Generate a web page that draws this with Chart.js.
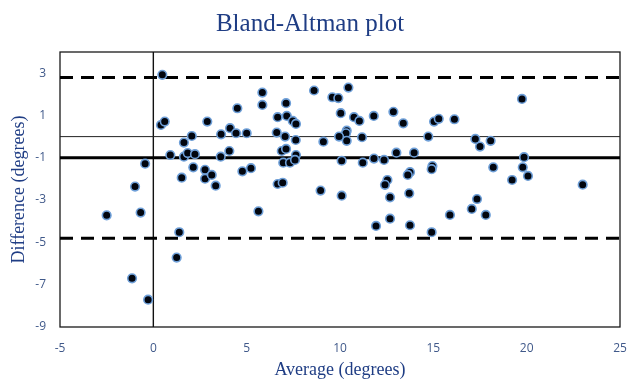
<!DOCTYPE html>
<html lang="en">
<head>
<meta charset="UTF-8">
<title>Bland-Altman plot</title>
<script src="https://cdn.jsdelivr.net/npm/chart.js@4.4.0/dist/chart.umd.min.js"></script>
<style>
  html, body { margin: 0; padding: 0; background: #fff; }
  #wrap { width: 627px; height: 381px; }
</style>
</head>
<body>
<div id="wrap"><canvas id="baPlot"></canvas></div>
<script>
// average of the two methods (x) and their difference (y)
var avgVals = [
  0.48, 0.41, 0.61, -0.44, -0.98, -2.50, -0.68, -1.14, -0.28, 1.39,
  1.25, 5.63, 0.91, 1.64, 1.64, 1.84, 2.06, 2.23, 2.14, 1.52,
  2.77, 2.77, 3.13, 3.34, 2.89, 3.61, 3.63, 4.07, 4.11, 4.43,
  4.50, 5.00, 4.77, 5.23, 5.84, 5.84, 6.66, 6.61, 7.11, 7.15,
  7.47, 7.64, 7.06, 7.63, 6.88, 7.11, 7.64, 6.96, 7.32, 7.59,
  6.66, 6.93, 8.61, 8.96, 9.11, 9.59, 9.91, 10.45, 10.04, 10.75,
  11.04, 11.81, 12.86, 13.39, 10.36, 10.32, 10.36, 9.95, 11.18, 14.73,
  15.04, 15.29, 16.13, 17.25, 17.50, 18.07, 19.75, 19.86, 19.79, 20.07,
  19.22, 18.21, 23.00, 10.09, 11.22, 11.82, 12.36, 13.02, 13.97, 14.95,
  14.91, 13.75, 13.63, 12.54, 12.41, 10.09, 12.68, 13.71, 17.34, 17.06,
  15.89, 17.81, 12.68, 11.93, 13.75, 14.91
];
var diffVals = [
  2.92, 0.55, 0.71, -1.28, -2.36, -3.72, -3.59, -6.70, -7.71, -4.52,
  -5.72, -3.53, -0.87, -0.95, -0.28, -0.78, 0.03, -0.83, -1.45, -1.94,
  -1.57, -1.99, -1.81, -2.32, 0.71, -0.95, 0.11, -0.68, 0.40, 0.16,
  1.34, 0.16, -1.64, -1.49, 2.08, 1.50, 0.92, 0.19, 1.58, 0.98,
  0.74, 0.60, 0.00, -0.16, -0.68, -0.58, -0.87, -1.23, -1.23, -1.10,
  -2.24, -2.18, 2.18, -2.55, -0.24, 1.86, 1.82, 2.32, 1.11, 0.92,
  0.74, 0.98, 1.17, 0.63, 0.28, 0.16, -0.20, 0.00, -0.03, 0.00,
  0.71, 0.84, 0.82, -0.11, -0.47, -0.20, 1.78, -0.97, -1.45, -1.86,
  -2.05, -1.45, -2.27, -1.14, -1.23, -1.04, -1.10, -0.76, -0.76, -1.39,
  -1.54, -1.68, -1.81, -2.05, -2.28, -2.79, -2.87, -2.68, -2.95, -3.42,
  -3.70, -3.70, -3.88, -4.22, -4.19, -4.52
];

var meanDiff = -1.0;
var upperLoA = 2.8;
var lowerLoA = -4.8;

var xTicks = [-5, 0, 5, 10, 15, 20, 25];
var yTicks = [-9, -7, -5, -3, -1, 1, 3];
var xMin = -5, xMax = 25, yMin = -9, yMax = 4;

var points = [];
for (var i = 0; i < avgVals.length; i++) {
  points.push({ x: avgVals[i], y: diffVals[i] });
}

function hLine(y) {
  return [{ x: xMin, y: y }, { x: xMax, y: y }];
}

// box round the plot area, like the excel chart
var frame = {
  id: 'frame',
  beforeDatasetsDraw: function(chart) {
    var a = chart.chartArea, ctx = chart.ctx;
    ctx.save();
    ctx.strokeStyle = '#1a1a1a';
    ctx.lineWidth = 1.3;
    ctx.strokeRect(a.left, a.top, a.right - a.left, a.bottom - a.top);
    ctx.restore();
  }
};

var titleBlue = '#1f3d84';
var tickBlue = '#40598a';

var ctx = document.getElementById('baPlot').getContext('2d');
var chart = new Chart(ctx, {
  type: 'scatter',
  data: {
    datasets: [
      {
        label: 'Differences',
        data: points,
        order: 0,
        pointRadius: 4.3,
        pointBorderWidth: 1.6,
        backgroundColor: '#02060f',
        borderColor: '#6e9fd8'
      },
      {
        type: 'line', label: 'Upper LoA', data: hLine(upperLoA), order: 1,
        borderColor: '#000', borderWidth: 3, borderDash: [13, 8], pointRadius: 0
      },
      {
        type: 'line', label: 'Zero', data: hLine(0), order: 1,
        borderColor: '#222', borderWidth: 1, pointRadius: 0
      },
      {
        type: 'line', label: 'Mean', data: hLine(meanDiff), order: 1,
        borderColor: '#000', borderWidth: 3, pointRadius: 0
      },
      {
        type: 'line', label: 'Lower LoA', data: hLine(lowerLoA), order: 1,
        borderColor: '#000', borderWidth: 3, borderDash: [13, 8], pointRadius: 0
      },
      {
        type: 'line', label: 'x = 0', data: [{ x: 0, y: yMin }, { x: 0, y: yMax }], order: 1,
        borderColor: '#111', borderWidth: 1.4, pointRadius: 0
      }
    ]
  },
  options: {
    responsive: true,
    maintainAspectRatio: false,
    animation: false,
    layout: { padding: { left: 0, right: 7, top: 0, bottom: 0 } },
    plugins: {
      legend: { display: false },
      tooltip: { enabled: false },
      title: {
        display: true,
        text: 'Bland-Altman plot',
        color: titleBlue,
        font: { family: '"Liberation Serif", "Times New Roman", serif', size: 25, weight: 'normal' },
        padding: { top: 9, bottom: 13 }
      }
    },
    scales: {
      x: {
        type: 'linear',
        min: xMin,
        max: xMax,
        grid: { display: false },
        border: { display: false },
        afterBuildTicks: function(s) { s.ticks = xTicks.map(function(v) { return { value: v }; }); },
        afterFit: function(s) { s.height = 54; s.paddingRight = 0; },
        ticks: {
          color: tickBlue,
          padding: 6,
          maxRotation: 0,
          font: { family: '"Open Sans", sans-serif', size: 12 }
        },
        title: {
          display: true,
          text: 'Average (degrees)',
          color: titleBlue,
          font: { family: '"Liberation Serif", "Times New Roman", serif', size: 18 },
          padding: { top: 2, bottom: 0 }
        }
      },
      y: {
        type: 'linear',
        min: yMin,
        max: yMax,
        grid: { display: false },
        border: { display: false },
        afterBuildTicks: function(s) { s.ticks = yTicks.map(function(v) { return { value: v }; }); },
        afterFit: function(s) { s.width = 60; },
        ticks: {
          color: tickBlue,
          padding: 6,
          font: { family: '"Open Sans", sans-serif', size: 12 }
        },
        title: {
          display: true,
          text: 'Difference (degrees)',
          color: titleBlue,
          font: { family: '"Liberation Serif", "Times New Roman", serif', size: 18 },
          padding: { top: 8, bottom: 0 }
        }
      }
    }
  },
  plugins: [frame]
});
</script>
</body>
</html>
